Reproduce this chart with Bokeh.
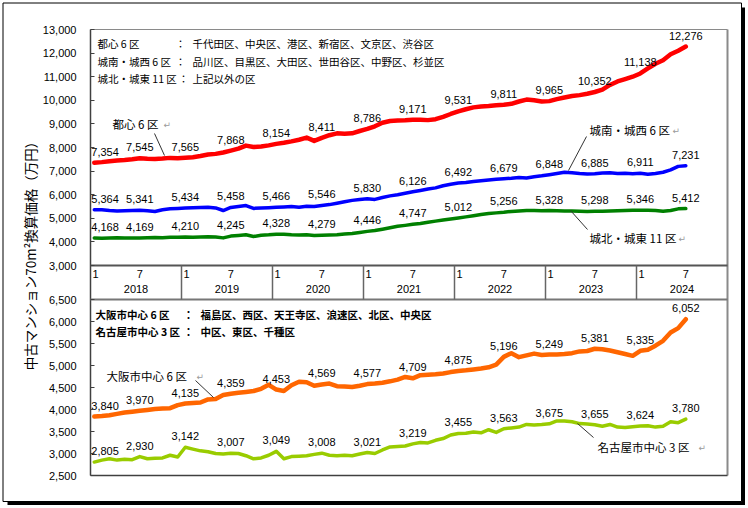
import numpy as np
from bokeh.plotting import figure
from bokeh.models import Range1d, LinearAxis, FixedTicker, NumeralTickFormatter, ColumnDataSource
from bokeh.core.properties import value
from bokeh.embed import file_html
from bokeh.resources import INLINE

# ---------------- data ----------------
years = ["2018", "2019", "2020", "2021", "2022", "2023", "2024"]
month_marks = ["1", "7"]
months = list(range(79))   # monthly index: Jan 2018 ... Jul 2024

tokyo_center6 = [7354, 7380, 7420, 7450, 7470, 7500, 7545, 7520, 7510, 7530, 7560, 7540,
                 7565, 7590, 7640, 7700, 7730, 7790, 7868, 7950, 8080, 8020, 8040, 8090,
                 8154, 8200, 8260, 8330, 8420, 8280, 8411, 8520, 8600, 8580, 8600, 8700,
                 8786, 8900, 9050, 9120, 9140, 9150, 9171, 9180, 9160, 9200, 9300, 9420,
                 9531, 9620, 9700, 9740, 9760, 9790, 9811, 9850, 9950, 10030, 10000, 9950,
                 9965, 10050, 10120, 10180, 10220, 10280, 10352, 10450, 10650, 10800, 10900, 11000,
                 11138, 11350, 11550, 11700, 11950, 12100, 12276]
tokyo_sw6 = [5364, 5360, 5330, 5310, 5320, 5330, 5341, 5320, 5290, 5360, 5400, 5420,
             5434, 5450, 5460, 5470, 5440, 5330, 5458, 5500, 5540, 5420, 5440, 5450,
             5466, 5480, 5500, 5470, 5510, 5500, 5546, 5580, 5640, 5700, 5760, 5800,
             5830, 5800, 5880, 5950, 6000, 6060, 6126, 6180, 6240, 6290, 6380, 6440,
             6492, 6520, 6560, 6590, 6620, 6650, 6679, 6700, 6730, 6710, 6760, 6800,
             6848, 6900, 6950, 6930, 6900, 6880, 6885, 6920, 6930, 6900, 6910, 6890,
             6911, 6870, 6900, 6950, 7050, 7200, 7231]
tokyo_ne11 = [4168, 4150, 4170, 4180, 4170, 4160, 4169, 4180, 4190, 4180, 4200, 4200,
              4210, 4200, 4210, 4220, 4210, 4170, 4245, 4270, 4300, 4230, 4280, 4300,
              4328, 4320, 4300, 4290, 4300, 4270, 4279, 4290, 4300, 4330, 4360, 4400,
              4446, 4480, 4540, 4600, 4660, 4700, 4747, 4780, 4830, 4880, 4930, 4970,
              5012, 5060, 5110, 5160, 5200, 5230, 5256, 5290, 5310, 5330, 5330, 5320,
              5328, 5320, 5310, 5310, 5300, 5290, 5298, 5300, 5310, 5320, 5330, 5340,
              5346, 5340, 5330, 5300, 5330, 5400, 5412]
osaka6 = [3840, 3850, 3870, 3900, 3930, 3950, 3970, 3990, 4010, 4020, 4030, 4100,
          4135, 4150, 4160, 4230, 4240, 4330, 4359, 4380, 4400, 4420, 4470, 4560,
          4453, 4420, 4550, 4630, 4620, 4540, 4569, 4590, 4530, 4520, 4510, 4540,
          4577, 4590, 4610, 4640, 4680, 4740, 4709, 4780, 4790, 4800, 4820, 4850,
          4875, 4890, 4910, 4930, 4960, 5020, 5196, 5280, 5190, 5230, 5270, 5240,
          5249, 5250, 5260, 5280, 5320, 5330, 5381, 5370, 5340, 5300, 5260, 5220,
          5335, 5360, 5450, 5560, 5750, 5850, 6052]
nagoya3 = [2805, 2850, 2880, 2850, 2870, 2860, 2930, 2880, 2890, 2900, 2960, 2920,
           3142, 3100, 3060, 3040, 3000, 2990, 3007, 3000, 2950, 2880, 2900, 2960,
           3049, 2880, 2930, 2940, 2950, 2980, 3008, 2960, 2950, 2960, 2950, 2990,
           3021, 3000, 3080, 3150, 3160, 3170, 3219, 3250, 3240, 3300, 3340, 3420,
           3455, 3460, 3490, 3470, 3540, 3480, 3563, 3580, 3600, 3660, 3650, 3660,
           3675, 3740, 3740, 3720, 3680, 3670, 3655, 3620, 3660, 3600, 3590, 3610,
           3624, 3630, 3600, 3620, 3720, 3700, 3780]

top_ticks = [3000, 4000, 5000, 6000, 7000, 8000, 9000, 10000, 11000, 12000, 13000]
bot_ticks = [2500, 3000, 3500, 4000, 4500, 5000, 5500, 6000, 6500]

top_names = ["都心 6 区", "城南・城西 6 区", "城北・城東 11 区"]
top_lists = ["千代田区、中央区、港区、新宿区、文京区、渋谷区",
             "品川区、目黒区、大田区、世田谷区、中野区、杉並区",
             "上記以外の区"]
bot_names = ["大阪市中心 6 区", "名古屋市中心 3 区"]
bot_lists = ["福島区、西区、天王寺区、浪速区、北区、中央区", "中区、東区、千種区"]
y_title = "中古マンション70m²換算価格（万円）"

# ---------------- layout constants (pixels) ----------------
W, H = 748, 508
PL, PR = 90, 727
PT, P1, P2, PB = 29, 265, 299, 475
NCAT = 84
ppm = (PR - PL) / NCAT
k_top = (P1 - PT) / (top_ticks[-1] - top_ticks[0])
k_bot = (PB - P2) / (bot_ticks[-1] - bot_ticks[0])

JP = value("Noto Sans CJK JP")
NUM = value("Liberation Sans")

p = figure(width=W, height=H, output_backend="svg", toolbar_location=None,
           x_range=Range1d(-0.5 - PL / ppm, -0.5 + (W - PL) / ppm),
           y_range=Range1d(top_ticks[0] - (H - P1) / k_top, top_ticks[-1] + PT / k_top),
           x_axis_type=None, y_axis_type=None, min_border=0, title=None)
p.extra_y_ranges = {"bot": Range1d(bot_ticks[0] - (H - PB) / k_bot, bot_ticks[-1] + P2 / k_bot),
                    "py": Range1d(H, 0)}
p.extra_x_ranges = {"px": Range1d(0, W)}
p.outline_line_color = None
p.background_fill_color = "white"
p.border_fill_color = "white"
p.min_border_left = p.min_border_right = p.min_border_top = p.min_border_bottom = 0

# ---------------- axes ----------------
for ticks, rng in ((top_ticks, "default"), (bot_ticks, "bot")):
    ax = LinearAxis(y_range_name=rng, fixed_location=-0.5,
                    ticker=FixedTicker(ticks=ticks, minor_ticks=[]),
                    formatter=NumeralTickFormatter(format="0,0"),
                    bounds=(ticks[0], ticks[-1]))
    ax.axis_line_color = None
    ax.major_tick_in = 4
    ax.major_tick_out = 0
    ax.minor_tick_in = 0
    ax.minor_tick_out = 0
    ax.major_tick_line_color = "#404040"
    ax.major_tick_line_width = 1
    ax.major_label_text_font = "Liberation Sans"
    ax.major_label_text_font_size = "11px"
    ax.major_label_text_color = "black"
    ax.major_label_standoff = 14
    p.add_layout(ax, "left")

# ---------------- outer box with shadow ----------------
p.quad(left=[2.5], right=[741], top=[2.5], bottom=[501], x_range_name="px", y_range_name="py",
       fill_color=None, line_color="black", line_width=1)
p.quad(left=[741, 7], right=[744.5, 744.5], top=[7, 501], bottom=[504.5, 504.5],
       x_range_name="px", y_range_name="py", fill_color="black", line_color=None)

# ---------------- plot frame / strip ----------------
x0, x1 = -0.5, NCAT - 0.5
p.segment(x0=[x0], x1=[x1], y0=[PT], y1=[PT], y_range_name="py", line_color="#8a8a8a", line_width=1)
p.segment(x0=[x1], x1=[x1], y0=[PT], y1=[PB], y_range_name="py", line_color="#8a8a8a", line_width=2)
p.segment(x0=[x0], x1=[x0], y0=[PT], y1=[PB], y_range_name="py", line_color="#404040", line_width=1.5)
p.segment(x0=[x0], x1=[x1], y0=[PB], y1=[PB], y_range_name="py", line_color="#404040", line_width=1.5)
p.segment(x0=[x0], x1=[x1], y0=[P1], y1=[P1], y_range_name="py", line_color="#555555", line_width=2)
p.segment(x0=[x0], x1=[x1], y0=[P2], y1=[P2], y_range_name="py", line_color="#777777", line_width=2)
yr_start = [12 * k - 0.5 for k in range(len(years))]
p.segment(x0=yr_start[1:], x1=yr_start[1:], y0=[P1] * (len(years) - 1), y1=[P2] * (len(years) - 1),
          y_range_name="py", line_color="#666666", line_width=1.5)
p.text(x=yr_start, y=[273.5] * len(years), text=[month_marks[0]] * len(years), y_range_name="py",
       x_offset=2, text_align="left", text_baseline="middle", text_font=NUM, text_font_size="11px")
p.text(x=[s + 6.5 for s in yr_start], y=[273.5] * len(years), text=[month_marks[1]] * len(years),
       y_range_name="py", text_align="center", text_baseline="middle", text_font=NUM, text_font_size="11px")
p.text(x=[s + 6 for s in yr_start], y=[288.5] * len(years), text=years, y_range_name="py",
       text_align="center", text_baseline="middle", text_font=NUM, text_font_size="11px")

# ---------------- series ----------------
src = ColumnDataSource(dict(m=months, c6=tokyo_center6, sw=tokyo_sw6, ne=tokyo_ne11,
                            osk=osaka6, ngy=nagoya3))
series = [("c6", "default", "#FF0000", 4.5), ("sw", "default", "#0000FF", 3.5),
          ("ne", "default", "#008000", 3.5), ("osk", "bot", "#FF6600", 4.5),
          ("ngy", "bot", "#99CC00", 3.5)]
for col, rng, color, lw in series:
    p.line("m", col, source=src, y_range_name=rng, line_color=color, line_width=lw,
           line_join="round", line_cap="round")

label_idx = months[::6]
for col, rng, color, lw in series:
    vals = [src.data[col][i] for i in label_idx]
    n = len(label_idx)
    lsrc = ColumnDataSource(dict(x=label_idx, y=vals, t=[f"{v:,}" for v in vals],
                                 a=["left"] + ["center"] * (n - 1), xo=[-3] + [0] * (n - 1)))
    p.text("x", "y", "t", source=lsrc, y_range_name=rng, text_align="a", x_offset="xo",
           y_offset=-11, text_baseline="middle", text_font=NUM, text_font_size="11px",
           text_color="black")

# ---------------- district legends (top-left of each panel) ----------------
p.text(x=[97] * 3, y=[43, 61, 78], text=top_names, x_range_name="px", y_range_name="py",
       text_baseline="middle", text_font=JP, text_font_size="10.5px")
p.text(x=[180, 180, 183], y=[43, 61, 78], text=["："] * 3, x_range_name="px", y_range_name="py",
       text_align="center", text_baseline="middle", text_font=JP, text_font_size="10.5px")
p.text(x=[192] * 3, y=[43, 61, 78], text=top_lists, x_range_name="px", y_range_name="py",
       text_baseline="middle", text_font=JP, text_font_size="10.5px")
p.text(x=[95] * 2, y=[314, 331], text=bot_names, x_range_name="px", y_range_name="py",
       text_baseline="middle", text_font=JP, text_font_size="10.5px", text_font_style="bold")
p.text(x=[188] * 2, y=[314, 331], text=["："] * 2, x_range_name="px", y_range_name="py",
       text_align="center", text_baseline="middle", text_font=JP, text_font_size="10.5px",
       text_font_style="bold")
p.text(x=[200] * 2, y=[314, 331], text=bot_lists, x_range_name="px", y_range_name="py",
       text_baseline="middle", text_font=JP, text_font_size="10.5px", text_font_style="bold")

# ---------------- series name callouts ----------------
callouts = [  # name, text x, text y, return-mark x, leader (x0,y0,x1,y1)
    ("都心 6 区", 112, 123, 163, (154, 133, 164, 155)),
    ("城南・城西 6 区", 589, 129, 672, (586, 136, 568, 170)),
    ("城北・城東 11 区", 589, 237, 678, (570, 210, 587, 229)),
    ("大阪市中心 6 区", 106, 375, 196, (195, 380, 213, 397)),
    ("名古屋市中心 3 区", 597, 446, 698, (577, 423, 593, 437)),
]
p.text(x=[c[1] for c in callouts], y=[c[2] for c in callouts], text=[c[0] for c in callouts],
       x_range_name="px", y_range_name="py", text_baseline="middle", text_font=JP,
       text_font_size="11.5px", text_color="black")
p.text(x=[c[3] for c in callouts], y=[c[2] + 1 for c in callouts], text=["↵"] * len(callouts),
       x_range_name="px", y_range_name="py", text_baseline="middle", text_font=value("DejaVu Sans"),
       text_font_size="9px", text_color="#9a9a9a")
p.segment(x0=[c[4][0] for c in callouts], y0=[c[4][1] for c in callouts],
          x1=[c[4][2] for c in callouts], y1=[c[4][3] for c in callouts],
          x_range_name="px", y_range_name="py", line_color="#333333", line_width=1)

# ---------------- y-axis title ----------------
p.text(x=[29], y=[252], text=[y_title], x_range_name="px", y_range_name="py", angle=np.pi / 2,
       text_align="center", text_baseline="middle", text_font=JP, text_font_size="13.5px")

open("out.html", "w").write(file_html(p, INLINE))
